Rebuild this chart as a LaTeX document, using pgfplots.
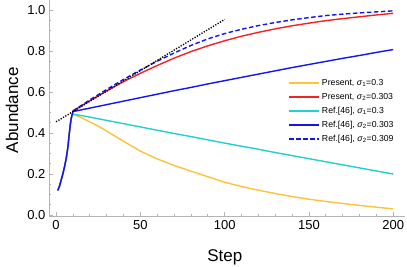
\documentclass[border=0pt]{standalone}
\usepackage{fontspec}
\setmainfont{Liberation Sans}
\usepackage{pgfplots}
\pgfplotsset{compat=1.18}
\definecolor{cY}{HTML}{FCC436}
\definecolor{cR}{HTML}{F52222}
\definecolor{cC}{HTML}{22D0D0}
\definecolor{cB}{HTML}{1414F0}
\definecolor{axgray}{HTML}{B4B4B4}

\begin{document}
\begin{tikzpicture}
\begin{axis}[
  scale only axis, width=356pt, height=216pt,
  xmin=-4.2, xmax=207, ymin=-0.005, ymax=1.05,
  axis lines*=left, axis line style={axgray, line width=0.9pt},
  tick style={axgray, line width=0.7pt}, tick align=inside,
  major tick length=4pt, minor tick length=2.4pt,
  xtick={0,50,...,200}, ytick={0,0.2,...,1.0},
  minor x tick num=4, minor y tick num=3,
  yticklabel style={/pgf/number format/.cd, fixed, fixed zerofill, precision=1},
  /pgf/number format/assume math mode=true,
  tick label style={font=\fontsize{13}{15}\selectfont, black},
  xticklabel style={yshift=-1pt},
  xlabel={Step}, ylabel={Abundance},
  every axis x label/.style={at={(axis description cs:0.494,-0.19)}, anchor=center,
    font=\fontsize{17}{20}\selectfont},
  every axis y label/.style={at={(axis description cs:-0.104,0.49)}, anchor=center, rotate=90,
    font=\fontsize{17}{20}\selectfont},
  legend style={draw=none, fill=none, font=\fontsize{8.7}{10}\selectfont,
    at={(axis description cs:0.664,0.652)}, anchor=north west, row sep=2.2pt},
  legend cell align=left,
  legend image code/.code={\draw plot coordinates {(0pt,0pt) (30pt,0pt)};},
  every axis plot/.append style={line width=1.4pt, line join=round},
]
\addplot[cY] coordinates {(1,0.12) (2,0.14) (3,0.17) (4,0.2) (5,0.235) (6,0.275) (7,0.33) (7.5,0.37) (8,0.41) (8.5,0.445) (9,0.47) (9.5,0.485) (10,0.493)
  (15,0.475) (20,0.455) (25,0.434) (30,0.41) (40,0.36) (50,0.312) (60,0.274) (70,0.242) (80,0.214) (90,0.187) (100,0.16) (110,0.139) (120,0.121) (130,0.105) (140,0.09) (150,0.077) (160,0.066) (170,0.056) (180,0.047) (190,0.038) (200,0.03)};
\addlegendentry{Present, \textit{σ}\textsubscript{1}=0.3}
\addplot[cR] coordinates {(1,0.12) (2,0.14) (3,0.17) (4,0.2) (5,0.235) (6,0.275) (7,0.33) (7.5,0.37) (8,0.41) (8.5,0.445) (9,0.472) (9.5,0.49) (10,0.508)
  (20,0.558) (30,0.606) (40,0.651) (50,0.692) (60,0.73) (70,0.766) (80,0.798) (90,0.826) (100,0.851) (110,0.873) (120,0.892) (130,0.909) (140,0.924) (150,0.937) (160,0.949) (170,0.959) (180,0.968) (190,0.977) (200,0.985)};
\addlegendentry{Present, \textit{σ}\textsubscript{2}=0.303}
\addplot[cC] coordinates {(1,0.12) (2,0.14) (3,0.17) (4,0.2) (5,0.235) (6,0.275) (7,0.33) (7.5,0.37) (8,0.41) (8.5,0.445) (9,0.47) (9.5,0.485) (10,0.493)
  (20,0.478) (30,0.462) (40,0.446) (50,0.43) (60,0.414) (70,0.398) (80,0.383) (90,0.367) (100,0.351) (110,0.336) (120,0.321) (130,0.305) (140,0.29) (150,0.275) (160,0.26) (170,0.245) (180,0.23) (190,0.215) (200,0.2)};
\addlegendentry{Ref.[46], \textit{σ}\textsubscript{1}=0.3}
\addplot[cB] coordinates {(1,0.12) (2,0.14) (3,0.17) (4,0.2) (5,0.235) (6,0.275) (7,0.33) (7.5,0.37) (8,0.41) (8.5,0.445) (9,0.472) (9.5,0.49) (10,0.505)
  (20,0.522) (30,0.539) (40,0.556) (50,0.573) (60,0.59) (70,0.607) (80,0.623) (90,0.64) (100,0.656) (110,0.672) (120,0.688) (130,0.704) (140,0.72) (150,0.735) (160,0.75) (170,0.765) (180,0.779) (190,0.794) (200,0.808)};
\addlegendentry{Ref.[46], \textit{σ}\textsubscript{2}=0.303}
\addplot[cB, dash pattern=on 4.5pt off 2.5pt] coordinates {(10,0.508)
  (20,0.562) (30,0.613) (40,0.662) (50,0.708) (60,0.751) (70,0.791) (80,0.828) (90,0.86) (100,0.886) (110,0.907) (120,0.925) (130,0.94) (140,0.953) (150,0.964) (160,0.974) (170,0.981) (180,0.987) (190,0.992) (200,0.997)};
\addlegendentry{Ref.[46], \textit{σ}\textsubscript{2}=0.309}
\addplot[black, line width=1.4pt, dash pattern=on 1.2pt off 1.5pt, forget plot] coordinates {(0,0.455) (100,0.955)};
\end{axis}
\pgfresetboundingbox
\path ([shift={(-49pt,-50pt)}]current axis.south west) rectangle ++(407pt,266pt);
\end{tikzpicture}
\end{document}
